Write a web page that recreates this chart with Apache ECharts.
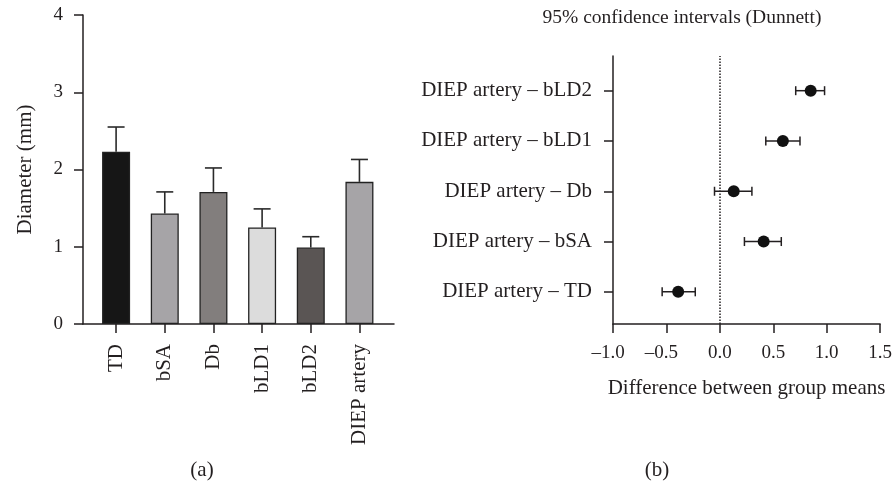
<!DOCTYPE html>
<html>
<head>
<meta charset="utf-8">
<script src="https://cdn.jsdelivr.net/npm/echarts@6/dist/echarts.min.js"></script>
<style>html,body{margin:0;padding:0;background:#fff;}#chart{width:895px;height:483px;}</style>
</head>
<body>
<div id="chart"></div>
<script>
// ---- Data: panel (a) ----
const categories = ['TD', 'bSA', 'Db', 'bLD1', 'bLD2', 'DIEP artery'];
const meanDiameter = [2.23, 1.43, 1.71, 1.25, 0.99, 1.84];
const errorTop = [2.55, 1.71, 2.02, 1.49, 1.13, 2.13];
const diameterTicks = [0, 1, 2, 3, 4];

// ---- Data: panel (b) (bottom to top) ----
const comparisons = ['DIEP artery – TD', 'DIEP artery – bSA', 'DIEP artery – Db', 'DIEP artery – bLD1', 'DIEP artery – bLD2'];
const meanDiff = [-0.39, 0.41, 0.13, 0.59, 0.85];
const ciLow = [-0.54, 0.23, -0.05, 0.43, 0.71];
const ciHigh = [-0.23, 0.575, 0.30, 0.75, 0.98];
const diffTicks = [-1.0, -0.5, 0.0, 0.5, 1.0, 1.5];

// ---- Styles ----
const barColors = ['#161616', '#a6a4a7', '#827e7d', '#dcdcdc', '#5a5554', '#a6a4a7'];
const ink = '#231f20';
const FONT = 'Liberation Serif';
const FS = 19;   // numeric ticks, title
const FL = 21;   // word labels

const catIdx = categories.map((_, i) => i);
const cmpIdx = comparisons.map((_, i) => i);

const chart = echarts.init(document.getElementById('chart'), null, {renderer: 'canvas'});

const axisLine = {show: true, onZero: false, lineStyle: {color: ink, width: 1.5}};
const axisTick = {show: true, inside: false, length: 9, lineStyle: {color: ink, width: 1.5}};
const lbl = {color: ink, fontFamily: FONT, fontSize: FS};
const lblW = {color: ink, fontFamily: FONT, fontSize: FL};

function fmtDiff(v) {
  const s = Math.abs(v).toFixed(1);
  return v < 0 ? '{n|\u2013' + s + '}' : '{p|' + s + '}';
}

const option = {
  backgroundColor: '#fff',
  animation: false,
  textStyle: {fontFamily: FONT, color: ink},
  grid: [
    {left: 83, top: 15, width: 311, height: 309},
    {left: 613, top: 56, width: 269, height: 268}
  ],
  xAxis: [
    {
      gridIndex: 0, type: 'value', min: -0.68, max: 5.71,
      axisLine: axisLine,
      axisTick: Object.assign({}, axisTick, {customValues: catIdx}),
      axisLabel: Object.assign({}, lblW, {customValues: catIdx, rotate: 90, margin: 20,
        formatter: v => categories[Math.round(v)] || ''}),
      splitLine: {show: false}
    },
    {
      gridIndex: 1, type: 'value', min: -1, max: 1.5, interval: 0.5,
      axisLine: axisLine, axisTick: axisTick,
      axisLabel: Object.assign({}, lbl, {margin: 20, formatter: fmtDiff,
        rich: {
          n: {color: ink, fontFamily: FONT, fontSize: FS, padding: [0, 10, 0, 0]},
          p: {color: ink, fontFamily: FONT, fontSize: FS}
        }}),
      splitLine: {show: false},
      name: 'Difference between group means', nameLocation: 'middle', nameGap: 54,
      nameTextStyle: lblW
    }
  ],
  yAxis: [
    {
      gridIndex: 0, type: 'value', min: 0, max: 4, interval: 1,
      axisLine: axisLine, axisTick: axisTick,
      axisLabel: Object.assign({}, lbl, {margin: 20}),
      splitLine: {show: false},
      name: 'Diameter (mm)', nameLocation: 'middle', nameGap: 47,
      nameTextStyle: lblW
    },
    {
      gridIndex: 1, type: 'value', min: -0.64, max: 4.69,
      axisLine: axisLine,
      axisTick: Object.assign({}, axisTick, {customValues: cmpIdx}),
      axisLabel: Object.assign({}, lblW, {customValues: cmpIdx, margin: 21,
        formatter: v => comparisons[Math.round(v)] || ''}),
      splitLine: {show: false}
    }
  ],
  graphic: [
    {type: 'text', x: 682, y: 8, style: {text: '95% confidence intervals (Dunnett)', fill: ink, font: '19.5px "' + FONT + '"', align: 'center'}},
    {type: 'text', x: 202, y: 460, style: {text: '(a)', fill: ink, font: FL + 'px "' + FONT + '"', align: 'center'}},
    {type: 'text', x: 657, y: 460, style: {text: '(b)', fill: ink, font: FL + 'px "' + FONT + '"', align: 'center'}}
  ],
  series: [
    {
      type: 'custom', xAxisIndex: 0, yAxisIndex: 0, z: 1,
      data: catIdx.map(i => [i, meanDiameter[i], errorTop[i]]),
      renderItem: function (params, api) {
        const p0 = api.coord([api.value(0), api.value(1)]);
        const p1 = api.coord([api.value(0), api.value(2)]);
        const st = {stroke: '#2a2a2a', lineWidth: 1.6};
        return {type: 'group', children: [
          {type: 'line', shape: {x1: p0[0], y1: p0[1], x2: p1[0], y2: p1[1]}, style: st},
          {type: 'line', shape: {x1: p1[0] - 8.5, y1: p1[1], x2: p1[0] + 8.5, y2: p1[1]}, style: st}
        ]};
      }
    },
    {
      type: 'bar', xAxisIndex: 0, yAxisIndex: 0, barWidth: 28, z: 2,
      data: catIdx.map(i => ({value: [i, meanDiameter[i]], itemStyle: {color: barColors[i], borderColor: '#222', borderWidth: 1.3}}))
    },
    {
      type: 'custom', xAxisIndex: 1, yAxisIndex: 1, z: 3,
      data: cmpIdx.map(i => [i, ciLow[i], ciHigh[i]]),
      renderItem: function (params, api) {
        const y = api.value(0);
        const a = api.coord([api.value(1), y]);
        const b = api.coord([api.value(2), y]);
        const st = {stroke: ink, lineWidth: 1.5};
        return {type: 'group', children: [
          {type: 'line', shape: {x1: a[0], y1: a[1], x2: b[0], y2: b[1]}, style: st},
          {type: 'line', shape: {x1: a[0], y1: a[1] - 4.5, x2: a[0], y2: a[1] + 4.5}, style: st},
          {type: 'line', shape: {x1: b[0], y1: b[1] - 4.5, x2: b[0], y2: b[1] + 4.5}, style: st}
        ]};
      }
    },
    {
      type: 'scatter', xAxisIndex: 1, yAxisIndex: 1, z: 4,
      symbol: 'circle', symbolSize: 12,
      itemStyle: {color: '#111', opacity: 1},
      data: cmpIdx.map(i => [meanDiff[i], i]),
      markLine: {
        silent: true, symbol: 'none', label: {show: false},
        lineStyle: {color: ink, type: 'dotted', width: 1.5},
        data: [{xAxis: 0}]
      }
    }
  ]
};
chart.setOption(option);
</script>
</body>
</html>
